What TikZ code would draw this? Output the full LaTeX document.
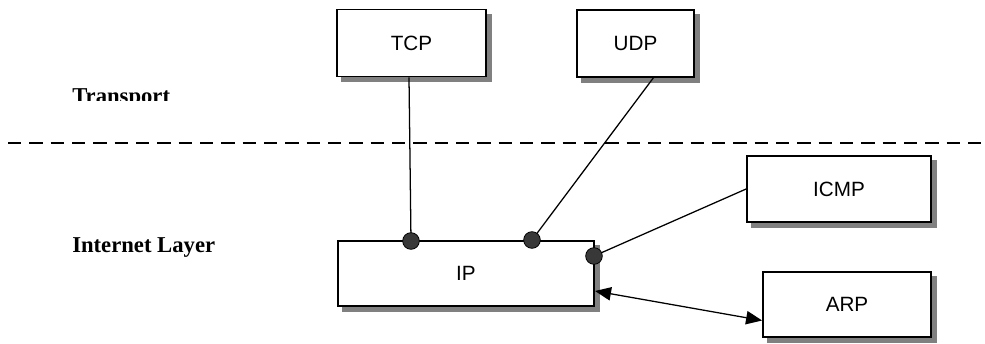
\documentclass[tikz,border=0pt]{standalone}
\usepackage{fontspec}
\setmainfont{Liberation Serif}
\newfontfamily\boxfont{Liberation Sans}
\usetikzlibrary{arrows.meta,calc,backgrounds}
\definecolor{shadowgray}{gray}{0.5}
\definecolor{dotfill}{gray}{0.22}
\tikzset{
  proto/.style={draw=black, line width=1.35pt, fill=white, inner sep=0pt,
    font=\boxfont\fontsize{15.5}{18}\selectfont},
  boxshadow/.style={fill=shadowgray, draw=none},
  layer/.style={font=\bfseries\fontsize{17}{20}\selectfont, inner sep=0pt, anchor=base west},
  link/.style={line width=0.95pt},
  port/.style={circle, draw=black, fill=dotfill, line width=0.6pt, minimum size=12.5pt, inner sep=0pt},
  bigtri/.tip={Triangle[length=12pt,width=10pt]}
}
\begin{document}
\begin{tikzpicture}[x=0.75pt, y=-0.75pt]
  \useasboundingbox (0,0) rectangle (985,343);

  % layer boundary
  \draw[line width=1pt, dash pattern=on 10pt off 6pt] (8,143) -- (985,143);

  % layer labels (the upper one is cut off at its foot)
  \begin{scope}
    \clip (60,80) rectangle (200,100);
    \node[layer] (transport) at (72,103) {Transport};
  \end{scope}
  \node[layer] (internet) at (72,252) {Internet Layer};

  % protocol boxes
  \node[proto, minimum width=111.75pt, minimum height=50.25pt] (tcp) at (411.5,43) {TCP};
  \node[proto, minimum width=87.75pt, minimum height=50.25pt] (udp) at (635.5,43.5) {UDP};
  \node[proto, minimum width=192pt, minimum height=48.75pt] (ip) at (466,273.5) {IP};
  \node[proto, minimum width=138pt, minimum height=49.5pt] (icmp) at (839,189) {ICMP};
  \node[proto, minimum width=126pt, minimum height=48.75pt] (arp) at (847,304.5) {ARP};

  % white sheet and offset shadows behind the boxes
  \begin{scope}[on background layer]
    \fill[white] (0,0) rectangle (985,343);
    \foreach \bx in {tcp,udp,ip,icmp,arp}
      \fill[boxshadow] ($(\bx.north west)+(5,5)$) rectangle ($(\bx.south east)+(5,5)$);
  \end{scope}

  % attachment points on the IP box
  \coordinate (ptcp) at (411,241);
  \coordinate (pudp) at (532,240);
  \coordinate (picmp) at (594,256);
  \coordinate (udpfoot) at (654,77);
  \coordinate (iparrow) at (595,291);

  % connectors
  \draw[link] (tcp.south) ++(-2.5,0) -- (ptcp);
  \draw[link] (udpfoot) -- (pudp);
  \draw[link] (picmp) -- (icmp.west);
  \draw[link, bigtri-bigtri] (iparrow) -- ($(arp.west)+(0,16)$);

  % ports
  \node[port] (ntcp) at (ptcp) {};
  \node[port] (nudp) at (pudp) {};
  \node[port] (nicmp) at (picmp) {};
\end{tikzpicture}
\end{document}
